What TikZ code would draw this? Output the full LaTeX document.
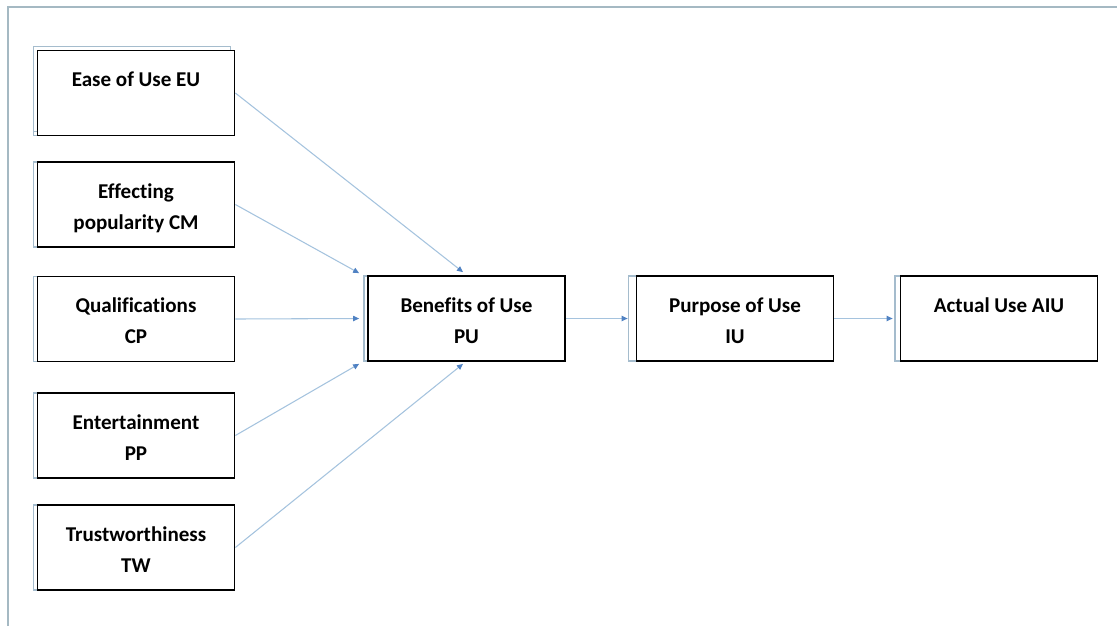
\documentclass[tikz,border=0pt]{standalone}
\usepackage{fontspec}
\setmainfont{Carlito}[Ligatures=NoCommon]
\usetikzlibrary{arrows.meta,shadows,calc}
\definecolor{framegrey}{RGB}{165,185,195}
\definecolor{shgrey}{RGB}{165,188,205}
\definecolor{linkblue}{RGB}{165,195,222}
\definecolor{tipblue}{RGB}{80,130,195}
\newcommand\bxt[1]{\parbox[c][63.75pt][t]{146pt}{\centering\rule{0pt}{27pt}#1}}
\begin{document}
\begin{tikzpicture}[x=0.75pt,y=-0.75pt,
  box/.style={draw=black, line width=1.3pt, fill=white, inner sep=0pt,
    minimum width=147.75pt, minimum height=63.75pt,
    font=\fontsize{15.8}{23.25}\selectfont\bfseries,
    general shadow={draw=shgrey, line width=1.4pt, fill=white, shadow xshift=-3pt, shadow yshift=0pt}},
  link/.style={draw=linkblue, line width=0.8pt, -{Triangle[length=4.5pt,width=4pt,color=tipblue]}},
  frame/.style={draw=framegrey, line width=1pt}]
\useasboundingbox (0,0) rectangle (1117,626);
\draw[frame] (8,626) -- (8,7) -- (1117,7);
\node[box, general shadow={draw=shgrey, line width=1.4pt, fill=white, shadow xshift=-3pt, shadow yshift=3pt}] (eu) at (136,93) {\bxt{Ease of Use EU}};
\node[box] (cm) at (136,204.5) {\bxt{Effecting\\popularity CM}};
\node[box] (cp) at (136,319) {\bxt{Qualifications\\CP}};
\node[box] (pp) at (136,435.5) {\bxt{Entertainment\\PP}};
\node[box] (tw) at (136,547.5) {\bxt{Trustworthiness\\TW}};
\node[box] (pu) at (466.5,318.5) {\bxt{Benefits of Use\\PU}};
\node[box, general shadow={draw=shgrey, line width=1.4pt, fill=white, shadow xshift=-6pt, shadow yshift=0pt}] (iu) at (735,318.5) {\bxt{Purpose of Use\\IU}};
\node[box, general shadow={draw=shgrey, line width=1.4pt, fill=white, shadow xshift=-4pt, shadow yshift=0pt}] (aiu) at (999,318.5) {\bxt{Actual Use AIU}};
\coordinate (pun) at ($(pu.north)+(-3.5,-3)$);
\coordinate (punw) at ($(pu.north west)+(-8,-2)$);
\coordinate (puw) at ($(pu.west)+(-8,0)$);
\coordinate (pusw) at ($(pu.south west)+(-8,2)$);
\coordinate (pus) at ($(pu.south)+(-3.5,2)$);
\coordinate (iuw) at ($(iu.west)+(-8,0)$);
\coordinate (aiuw) at ($(aiu.west)+(-7,0)$);
\draw[link] (eu.east) -- (pun);
\draw[link] (cm.east) -- (punw);
\draw[link] (cp.east) -- (puw);
\draw[link] (pp.east) -- (pusw);
\draw[link] (tw.east) -- (pus);
\draw[link] (pu.east) -- (iuw);
\draw[link] (iu.east) -- (aiuw);
\end{tikzpicture}
\end{document}
